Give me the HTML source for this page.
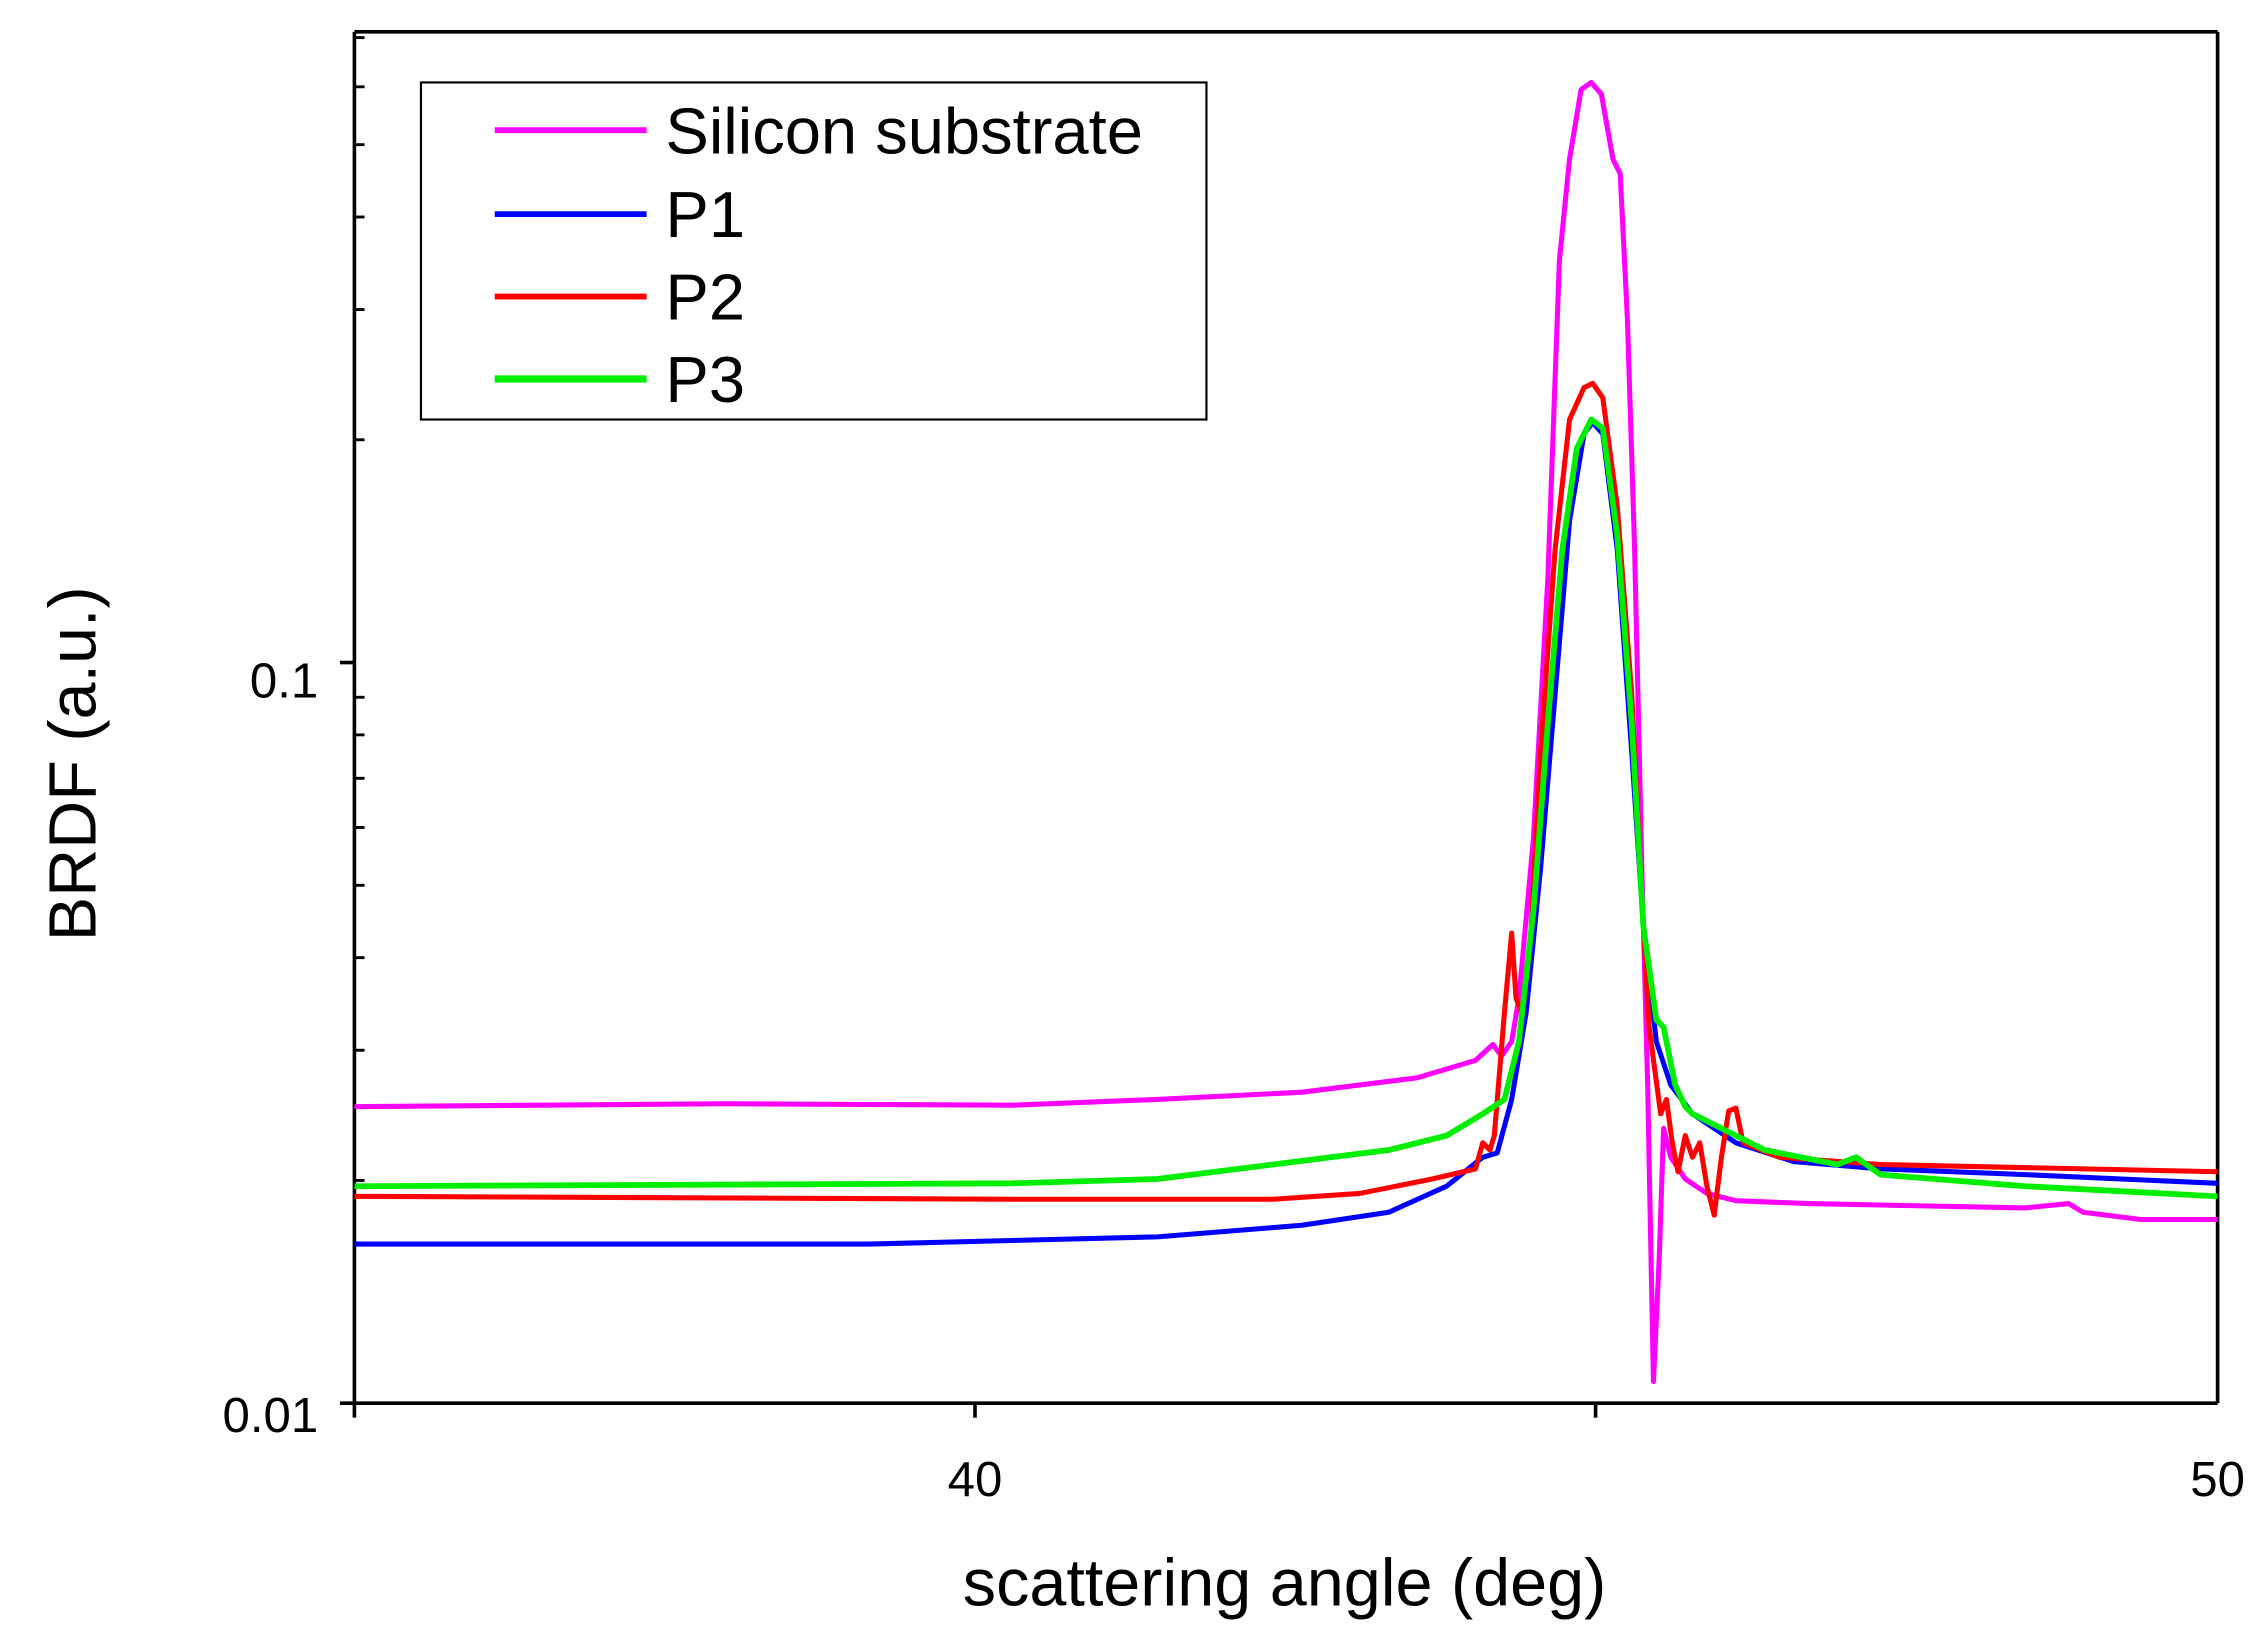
<!DOCTYPE html>
<html><head><meta charset="utf-8"><style>html,body{margin:0;padding:0;background:#fff}svg{display:block}</style></head>
<body>
<svg width="2261" height="1650" viewBox="0 0 1563 1140.6" preserveAspectRatio="none" xmlns="http://www.w3.org/2000/svg" font-family="Liberation Sans, sans-serif">
<rect width="1563" height="1141" fill="#fff"/>
<g stroke="#000" stroke-width="2.5" fill="none">
<line x1="245" y1="22" x2="1533" y2="22"/>
<line x1="1533" y1="22" x2="1533" y2="970"/>
<line x1="245" y1="22" x2="245" y2="980"/>
<line x1="240" y1="970" x2="1533" y2="970"/>
<line x1="235" y1="458" x2="245" y2="458"/>
<line x1="235" y1="970" x2="245" y2="970"/>
<line x1="674" y1="970" x2="674" y2="980"/>
<line x1="1103" y1="970" x2="1103" y2="980"/>
</g>
<g stroke="#000" stroke-width="2">
<line x1="245" y1="816" x2="252" y2="816"/><line x1="245" y1="726" x2="252" y2="726"/>
<line x1="245" y1="662" x2="252" y2="662"/><line x1="245" y1="612" x2="252" y2="612"/>
<line x1="245" y1="572" x2="252" y2="572"/><line x1="245" y1="538" x2="252" y2="538"/>
<line x1="245" y1="508" x2="252" y2="508"/><line x1="245" y1="482" x2="252" y2="482"/>
<line x1="245" y1="304" x2="252" y2="304"/><line x1="245" y1="214" x2="252" y2="214"/>
<line x1="245" y1="150" x2="252" y2="150"/><line x1="245" y1="100" x2="252" y2="100"/>
<line x1="245" y1="60" x2="252" y2="60"/><line x1="245" y1="26" x2="252" y2="26"/>
</g>
<g font-size="34" fill="#000">
<text x="220" y="482" text-anchor="end">0.1</text>
<text x="220" y="990" text-anchor="end">0.01</text>
<text x="674" y="1034" text-anchor="middle">40</text>
<text x="1533" y="1034" text-anchor="middle">50</text>
</g>
<text x="888" y="1110" font-size="46" text-anchor="middle">scattering angle (deg)</text>
<text transform="translate(66,528) rotate(-90)" font-size="46" text-anchor="middle">BRDF (a.u.)</text>
<g fill="none" stroke-linejoin="round" stroke-width="3.5">
<polyline stroke="#ff00ff" stroke-width="3.5" points="245,765 500,763 700,764 800,760 900,755 980,745 1020,733 1032,722 1038,730 1045,720 1050,690 1060,580 1070,400 1078,180 1085,110 1093,62 1100,57 1107,65 1115,110 1120,120 1125,220 1130,380 1135,600 1139,750 1143,955 1147,870 1150,780 1155,800 1165,815 1180,825 1200,830 1250,832 1300,833 1400,835 1430,832 1440,838 1480,843 1533,843"/>
<polyline stroke="#0000ff" points="245,860 600,860 800,855 900,847 960,838 1000,820 1025,800 1035,797 1045,760 1055,700 1065,600 1075,480 1085,360 1095,300 1101,292 1108,300 1118,380 1128,520 1136,640 1145,720 1155,750 1170,770 1200,790 1240,803 1300,808 1400,812 1533,818"/>
<polyline stroke="#ff0000" points="245,827 700,829 880,829 940,825 990,815 1020,808 1025,790 1030,795 1033,785 1040,700 1045,645 1048,690 1052,700 1058,650 1065,520 1075,380 1085,290 1095,268 1101,265 1108,275 1118,350 1128,480 1135,620 1140,710 1148,770 1152,760 1156,790 1160,810 1165,785 1170,800 1175,790 1180,820 1185,840 1190,800 1195,768 1200,766 1205,790 1230,800 1300,805 1533,810"/>
<polyline stroke="#00ee00" stroke-width="4" points="245,820 700,818 800,815 880,805 960,795 1000,785 1025,770 1040,760 1050,720 1060,630 1070,500 1080,380 1090,310 1100,290 1108,296 1118,370 1128,500 1136,640 1145,705 1150,710 1158,750 1165,765 1170,770 1190,780 1220,795 1270,805 1283,800 1300,812 1400,820 1533,827"/>
</g>
<rect x="291" y="57" width="543" height="233" fill="#fff" stroke="#000" stroke-width="1.5"/>
<g stroke-width="4">
<line x1="342" y1="90" x2="447" y2="90" stroke="#ff00ff"/>
<line x1="342" y1="148" x2="447" y2="148" stroke="#0000ff"/>
<line x1="342" y1="205" x2="447" y2="205" stroke="#ff0000"/>
<line x1="342" y1="262" x2="447" y2="262" stroke="#00ee00" stroke-width="5"/>
</g>
<g font-size="45" fill="#000">
<text x="460" y="106">Silicon substrate</text>
<text x="460" y="164">P1</text>
<text x="460" y="221">P2</text>
<text x="460" y="278">P3</text>
</g>
</svg>
</body></html>
